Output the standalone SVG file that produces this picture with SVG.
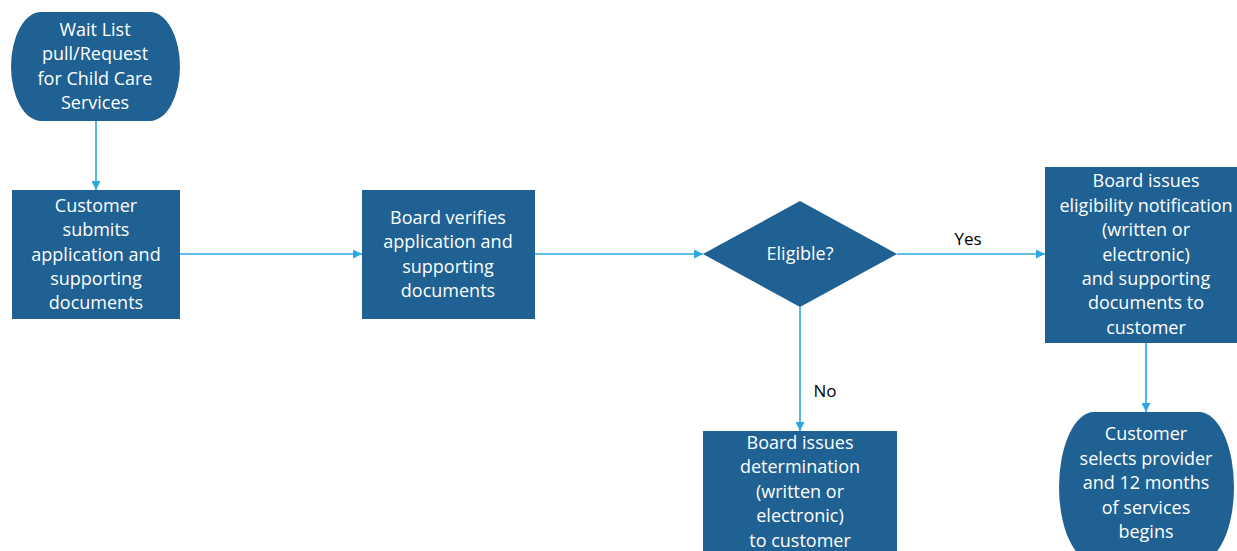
<svg xmlns="http://www.w3.org/2000/svg" width="1237" height="551" viewBox="0 0 1237 551">
<style>
.n{fill:#1F6192;}
.t{fill:#ffffff;font-family:"Open Sans","Liberation Sans",sans-serif;font-size:18px;text-anchor:middle;}
.l{fill:#000000;font-family:"Open Sans","Liberation Sans",sans-serif;font-size:17px;text-anchor:middle;}
.c{stroke:#2BA8E0;stroke-width:1.6;fill:none;marker-end:url(#ah);}
</style>
<defs>
<marker id="ah" viewBox="0 0 10 10" refX="10" refY="5" markerWidth="9" markerHeight="9" markerUnits="userSpaceOnUse" orient="auto">
<path d="M0,0 L10,5 L0,10 z" fill="#2BA8E0"/>
</marker>
</defs>
<rect width="1237" height="551" fill="#ffffff"/>
<g id="connectors">
<line class="c" x1="96" y1="121" x2="96" y2="190"/>
<line class="c" x1="180" y1="254" x2="362" y2="254"/>
<line class="c" x1="535" y1="254" x2="703" y2="254"/>
<line class="c" x1="897" y1="254" x2="1045" y2="254"/>
<line class="c" x1="800" y1="307" x2="800" y2="431"/>
<line class="c" x1="1146" y1="343" x2="1146" y2="412"/>
<text class="l" x="968" y="245">Yes</text>
<text class="l" x="825" y="397">No</text>
</g>
<g id="start">
<path class="n" d="M41,12 L150,12 A30,54.5 0 0 1 150,121 L41,121 A30,54.5 0 0 1 41,12 Z"/>
<text class="t" x="95" y="36">Wait List</text>
<text class="t" x="95" y="60">pull/Request</text>
<text class="t" x="95" y="85">for Child Care</text>
<text class="t" x="95" y="109">Services</text>
</g>
<g id="submit">
<rect class="n" x="12" y="190" width="168" height="129"/>
<text class="t" x="96" y="212">Customer</text>
<text class="t" x="96" y="236">submits</text>
<text class="t" x="96" y="261">application and</text>
<text class="t" x="96" y="285">supporting</text>
<text class="t" x="96" y="309">documents</text>
</g>
<g id="verify">
<rect class="n" x="362" y="190" width="173" height="129"/>
<text class="t" x="448" y="224">Board verifies</text>
<text class="t" x="448" y="248">application and</text>
<text class="t" x="448" y="273">supporting</text>
<text class="t" x="448" y="297">documents</text>
</g>
<g id="eligible">
<polygon class="n" points="703,254 800,201 897,254 800,307"/>
<text class="t" x="800" y="260">Eligible?</text>
</g>
<g id="notify">
<rect class="n" x="1045" y="167" width="202" height="176"/>
<text class="t" x="1146" y="187">Board issues</text>
<text class="t" x="1146" y="212">eligibility notification</text>
<text class="t" x="1146" y="236">(written or</text>
<text class="t" x="1146" y="261">electronic)</text>
<text class="t" x="1146" y="285">and supporting</text>
<text class="t" x="1146" y="309">documents to</text>
<text class="t" x="1146" y="334">customer</text>
</g>
<g id="determination">
<rect class="n" x="703" y="431" width="194" height="130"/>
<text class="t" x="800" y="449">Board issues</text>
<text class="t" x="800" y="473">determination</text>
<text class="t" x="800" y="498">(written or</text>
<text class="t" x="800" y="522">electronic)</text>
<text class="t" x="800" y="547">to customer</text>
</g>
<g id="begins">
<path class="n" d="M1094,412 L1199,412 A35,75 0 0 1 1199,562 L1094,562 A35,75 0 0 1 1094,412 Z"/>
<text class="t" x="1146" y="440">Customer</text>
<text class="t" x="1146" y="465">selects provider</text>
<text class="t" x="1146" y="489">and 12 months</text>
<text class="t" x="1146" y="514">of services</text>
<text class="t" x="1146" y="538">begins</text>
</g>
</svg>
